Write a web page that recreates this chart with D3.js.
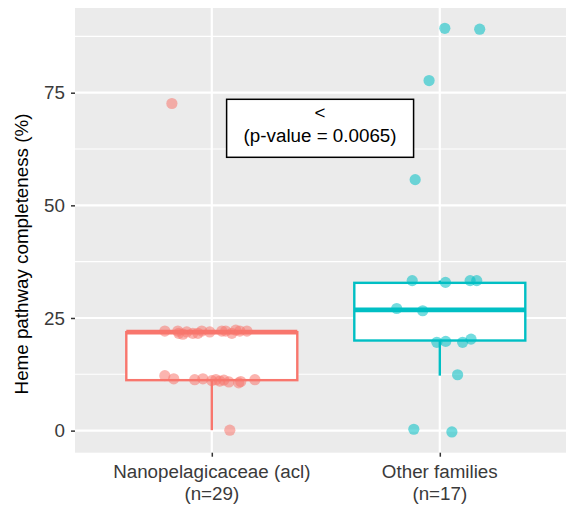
<!DOCTYPE html>
<html>
<head>
<meta charset="utf-8">
<script src="https://cdn.jsdelivr.net/npm/d3@7"></script>
<style>
  html, body { margin: 0; padding: 0; background: #fff; }
  svg { display: block; font-family: "Liberation Sans", Arial, Helvetica, sans-serif; }
</style>
</head>
<body>
<svg id="chart" width="566" height="510"></svg>
<script>
// ---- data ----
const categories = ["Nanopelagicaceae (acl)", "Other families"];
const categoryCounts = ["(n=29)", "(n=17)"];
const colors = ["#F8766D", "#00BFC4"];
const yTicks = [0, 25, 50, 75];
const yMinorTicks = [12.5, 37.5, 62.5, 87.5];

// box statistics per category: lower whisker, Q1, median, Q3, upper whisker
const whiskerLow = [0.1, 12.2];
const q1 = [11.2, 20.0];
const median = [21.85, 26.8];
const q3 = [21.85, 32.8];
const whiskerHigh = [22.3, 33.3];

// jittered points (values and horizontal jitter offsets in category units)
const nanoValues = [22.1, 21.6, 21.4, 21.9, 21.6, 22.1, 21.9, 22.1, 22.1, 21.6, 22.3, 22.1, 22.1, 21.6, 22.1,
                    12.2, 11.5, 11.3, 11.5, 11.1, 11.3, 11.0, 11.2, 10.8, 10.6, 10.9, 11.3,
                    72.6, 0.1];
const nanoJitter = [-0.206, -0.145, -0.127, -0.110, -0.083, -0.044, -0.009, 0.044, 0.061, 0.088, 0.105, 0.123, 0.154, -0.061, -0.149,
                    -0.206, -0.167, -0.075, -0.039, 0.0, 0.018, 0.035, 0.053, 0.075, 0.118, 0.127, 0.189,
                    -0.175, 0.079];
const otherValues = [89.3, 89.1, 77.7, 55.7, 33.3, 32.9, 33.3, 33.3, 27.1, 26.6, 19.6, 19.8, 19.6, 20.3, 12.4, 0.3, -0.3];
const otherJitter = [0.022, 0.175, -0.047, -0.108, -0.121, 0.025, 0.133, 0.162, -0.189, -0.075, -0.013, 0.026, 0.100, 0.137, 0.078, -0.114, 0.053];

const annotationLines = ["<", "(p-value = 0.0065)"];
const annotationPos = [1.475, 67.1];
const yTitle = "Heme pathway completeness (%)";

// ---- layout ----
const FS = 18.8;
const svg = d3.select("#chart");
const panel = { left: 75, top: 8, right: 566, bottom: 452.7 };

const x = d3.scaleLinear().domain([0.4, 2.6]).range([panel.left, panel.left + 2.2 * 228]);
const y = d3.scaleLinear().domain([-4.9, 93.8]).range([panel.bottom, panel.top]);

// panel background
svg.append("rect")
  .attr("x", panel.left).attr("y", panel.top)
  .attr("width", panel.right - panel.left).attr("height", panel.bottom - panel.top)
  .attr("fill", "#EBEBEB");

const grid = svg.append("g");
grid.selectAll(".minor").data(yMinorTicks).join("line")
  .attr("x1", panel.left).attr("x2", panel.right)
  .attr("y1", d => y(d)).attr("y2", d => y(d))
  .attr("stroke", "#fff").attr("stroke-width", 1.1);
grid.selectAll(".major").data(yTicks).join("line")
  .attr("x1", panel.left).attr("x2", panel.right)
  .attr("y1", d => y(d)).attr("y2", d => y(d))
  .attr("stroke", "#fff").attr("stroke-width", 2.2);
grid.selectAll(".vmajor").data(categories).join("line")
  .attr("x1", (d, i) => x(i + 1)).attr("x2", (d, i) => x(i + 1))
  .attr("y1", panel.top).attr("y2", panel.bottom)
  .attr("stroke", "#fff").attr("stroke-width", 2.2);

// axes
const yAxis = d3.axisLeft(y).tickValues(yTicks).tickSize(4).tickPadding(6);
const gy = svg.append("g").attr("transform", `translate(${panel.left},0)`).call(yAxis);
gy.select(".domain").remove();
gy.selectAll(".tick line").attr("stroke", "#333").attr("stroke-width", 1.5);
gy.selectAll(".tick text").attr("fill", "#3a3a3a").attr("font-size", FS)
  .attr("font-family", "Liberation Sans, Arial, sans-serif");

const xAxis = d3.axisBottom(x).tickValues([1, 2]).tickSize(4).tickFormat(() => "");
const gx = svg.append("g").attr("transform", `translate(0,${panel.bottom})`).call(xAxis);
gx.select(".domain").remove();
gx.selectAll(".tick line").attr("stroke", "#333").attr("stroke-width", 1.5);

const xl = svg.append("g");
categories.forEach((c, i) => {
  const t = xl.append("text")
    .attr("x", x(i + 1)).attr("y", 478)
    .attr("text-anchor", "middle").attr("font-size", FS).attr("fill", "#3a3a3a");
  t.append("tspan").attr("x", x(i + 1)).attr("y", 478).text(c);
  t.append("tspan").attr("x", x(i + 1)).attr("y", 500).text(categoryCounts[i]);
});

svg.append("text")
  .attr("transform", `translate(28,254) rotate(-90)`)
  .attr("text-anchor", "middle").attr("font-size", FS).attr("fill", "#000")
  .text(yTitle);

// boxplots
const hw = 0.375;
const boxes = svg.append("g");
categories.forEach((c, i) => {
  const cx = i + 1;
  const col = colors[i];
  boxes.append("line")
    .attr("x1", x(cx)).attr("x2", x(cx))
    .attr("y1", y(q1[i])).attr("y2", y(whiskerLow[i]))
    .attr("stroke", col).attr("stroke-width", 2.4);
  boxes.append("line")
    .attr("x1", x(cx)).attr("x2", x(cx))
    .attr("y1", y(q3[i])).attr("y2", y(whiskerHigh[i]))
    .attr("stroke", col).attr("stroke-width", 2.4);
  boxes.append("rect")
    .attr("x", x(cx - hw)).attr("width", x(cx + hw) - x(cx - hw))
    .attr("y", y(q3[i])).attr("height", y(q1[i]) - y(q3[i]))
    .attr("fill", "#fff").attr("stroke", col).attr("stroke-width", 2.4);
  boxes.append("line")
    .attr("x1", x(cx - hw)).attr("x2", x(cx + hw))
    .attr("y1", y(median[i])).attr("y2", y(median[i]))
    .attr("stroke", col).attr("stroke-width", 4.8);
});

// jittered points
const pts = svg.append("g");
const groups = [
  { vals: nanoValues, jit: nanoJitter, cat: 1, col: colors[0] },
  { vals: otherValues, jit: otherJitter, cat: 2, col: colors[1] }
];
groups.forEach(g => {
  pts.selectAll(null).data(g.vals).join("circle")
    .attr("cx", (d, k) => x(g.cat + g.jit[k]))
    .attr("cy", d => y(d))
    .attr("r", 5.6)
    .attr("fill", g.col).attr("fill-opacity", 0.55);
});

// annotation label
const ann = svg.append("g");
const ax = x(annotationPos[0]), ay = y(annotationPos[1]);
const annText = ann.append("text").attr("text-anchor", "middle").attr("font-size", FS).attr("fill", "#000");
annText.append("tspan").attr("x", ax).attr("y", ay - 9.5).text(annotationLines[0]);
annText.append("tspan").attr("x", ax).attr("y", ay + 13.5).text(annotationLines[1]);
const bb = annText.node().getBBox();
const padX = 17;
ann.insert("rect", "text")
  .attr("x", ax - bb.width / 2 - padX).attr("width", bb.width + 2 * padX)
  .attr("y", ay - 29).attr("height", 58)
  .attr("fill", "#fff").attr("stroke", "#000").attr("stroke-width", 1.5);
</script>
</body>
</html>
